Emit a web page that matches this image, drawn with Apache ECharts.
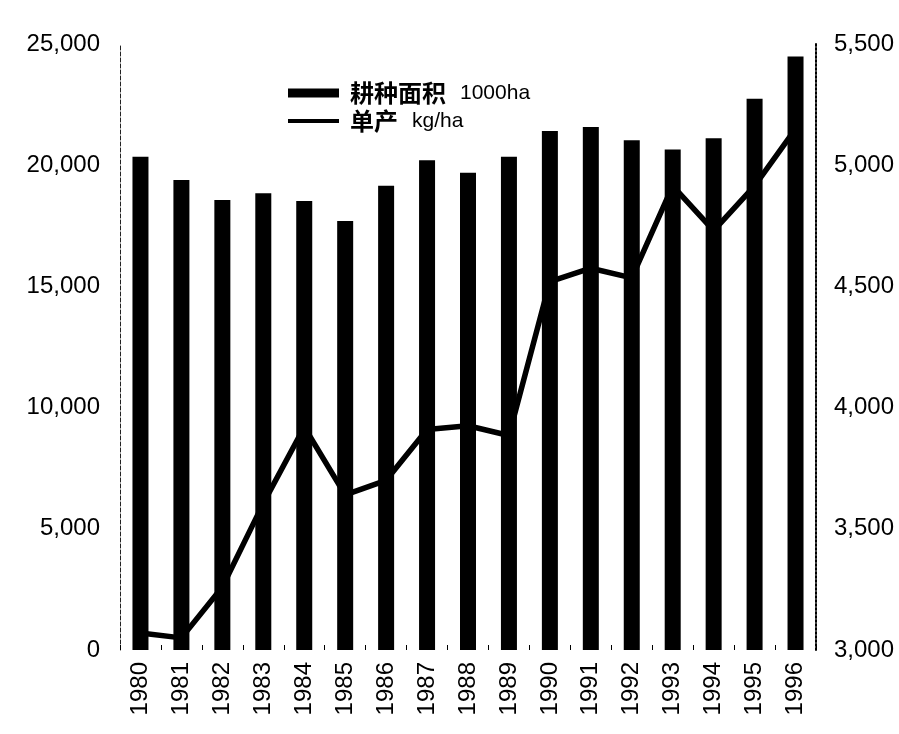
<!DOCTYPE html>
<html>
<head>
<meta charset="utf-8">
<script src="https://cdn.jsdelivr.net/npm/echarts@6/dist/echarts.min.js"></script>
<style>
  html, body { margin: 0; padding: 0; background: #fff; }
  #chart { width: 899px; height: 734px; }
</style>
</head>
<body>
<div id="chart"></div>
<script>
// 年份
const years = ["1980", "1981", "1982", "1983", "1984", "1985", "1986", "1987", "1988",
  "1989", "1990", "1991", "1992", "1993", "1994", "1995", "1996"];
// 耕种面积 1000ha
const area = [20350, 19390, 18560, 18840, 18520, 17700, 19150, 20200, 19690,
  20350, 21410, 21580, 21030, 20650, 21110, 22740, 24480];
// 单产 kg/ha
const yieldPerHa = [3070, 3050, 3260, 3605, 3920, 3640, 3700, 3910, 3925,
  3885, 4520, 4575, 4535, 4915, 4730, 4915, 5150];

const areaName = "耕种面积 1000ha";
const yieldName = "单产 kg/ha";

const chart = echarts.init(document.getElementById("chart"));

// 千分位
const thousands = (v) => String(v).replace(/\B(?=(\d{3})+(?!\d))/g, ",");

const axisFont = {
  color: "#000",
  fontFamily: "Liberation Sans",
  fontSize: 24,
};

const option = {
  backgroundColor: "#fff",
  animation: false,
  grid: {
    left: 120,
    right: 83,
    top: 44,
    bottom: 84,
  },
  legend: {
    orient: "vertical",
    left: 283,
    top: 75,
    itemWidth: 51,
    itemHeight: 9,
    itemGap: 2,
    data: [
      { name: areaName, icon: "rect" },
      { name: yieldName, icon: "path://M0,0 L51,0 L51,4 L0,4 Z" },
    ],
    formatter: (name) => {
      const [cn, unit] = name.split(" ");
      return "{pad|}{cn|" + cn + "}{gap|}{unit|" + unit + "}";
    },
    textStyle: {
      color: "#000",
      lineHeight: 26,
      rich: {
        pad: { width: 6 },
        cn: {
          fontFamily: "Noto Sans CJK SC",
          fontWeight: "bold",
          fontSize: 24,
          color: "#000",
        },
        gap: { width: 14 },
        unit: {
          fontFamily: "Liberation Sans",
          fontSize: 21,
          color: "#000",
        },
      },
    },
  },
  xAxis: {
    type: "category",
    data: years,
    axisLine: { show: false },
    axisTick: {
      show: true,
      inside: true,
      length: 5,
      lineStyle: { color: "#000", width: 1 },
    },
    axisLabel: {
      ...axisFont,
      rotate: 90,
      margin: 12,
      interval: 0,
    },
    splitLine: { show: false },
  },
  yAxis: [
    {
      type: "value",
      min: 0,
      max: 25000,
      interval: 5000,
      axisLine: { show: true, lineStyle: { color: "#222", width: 1, type: "dashed" } },
      axisTick: { show: false },
      splitLine: { show: false },
      axisLabel: {
        ...axisFont,
        margin: 20,
        formatter: thousands,
      },
    },
    {
      type: "value",
      min: 3000,
      max: 5500,
      interval: 500,
      position: "right",
      axisLine: { show: true, lineStyle: { color: "#000", width: 2, type: "dotted" } },
      axisTick: { show: false },
      splitLine: { show: false },
      axisLabel: {
        ...axisFont,
        margin: 18,
        formatter: thousands,
      },
    },
  ],
  series: [
    {
      name: areaName,
      type: "bar",
      data: area,
      barWidth: 16,
      itemStyle: { color: "#000" },
    },
    {
      name: yieldName,
      type: "line",
      yAxisIndex: 1,
      data: yieldPerHa,
      symbol: "none",
      lineStyle: { color: "#000", width: 5.5 },
      itemStyle: { color: "#000" },
    },
  ],
};

chart.setOption(option);
</script>
</body>
</html>
